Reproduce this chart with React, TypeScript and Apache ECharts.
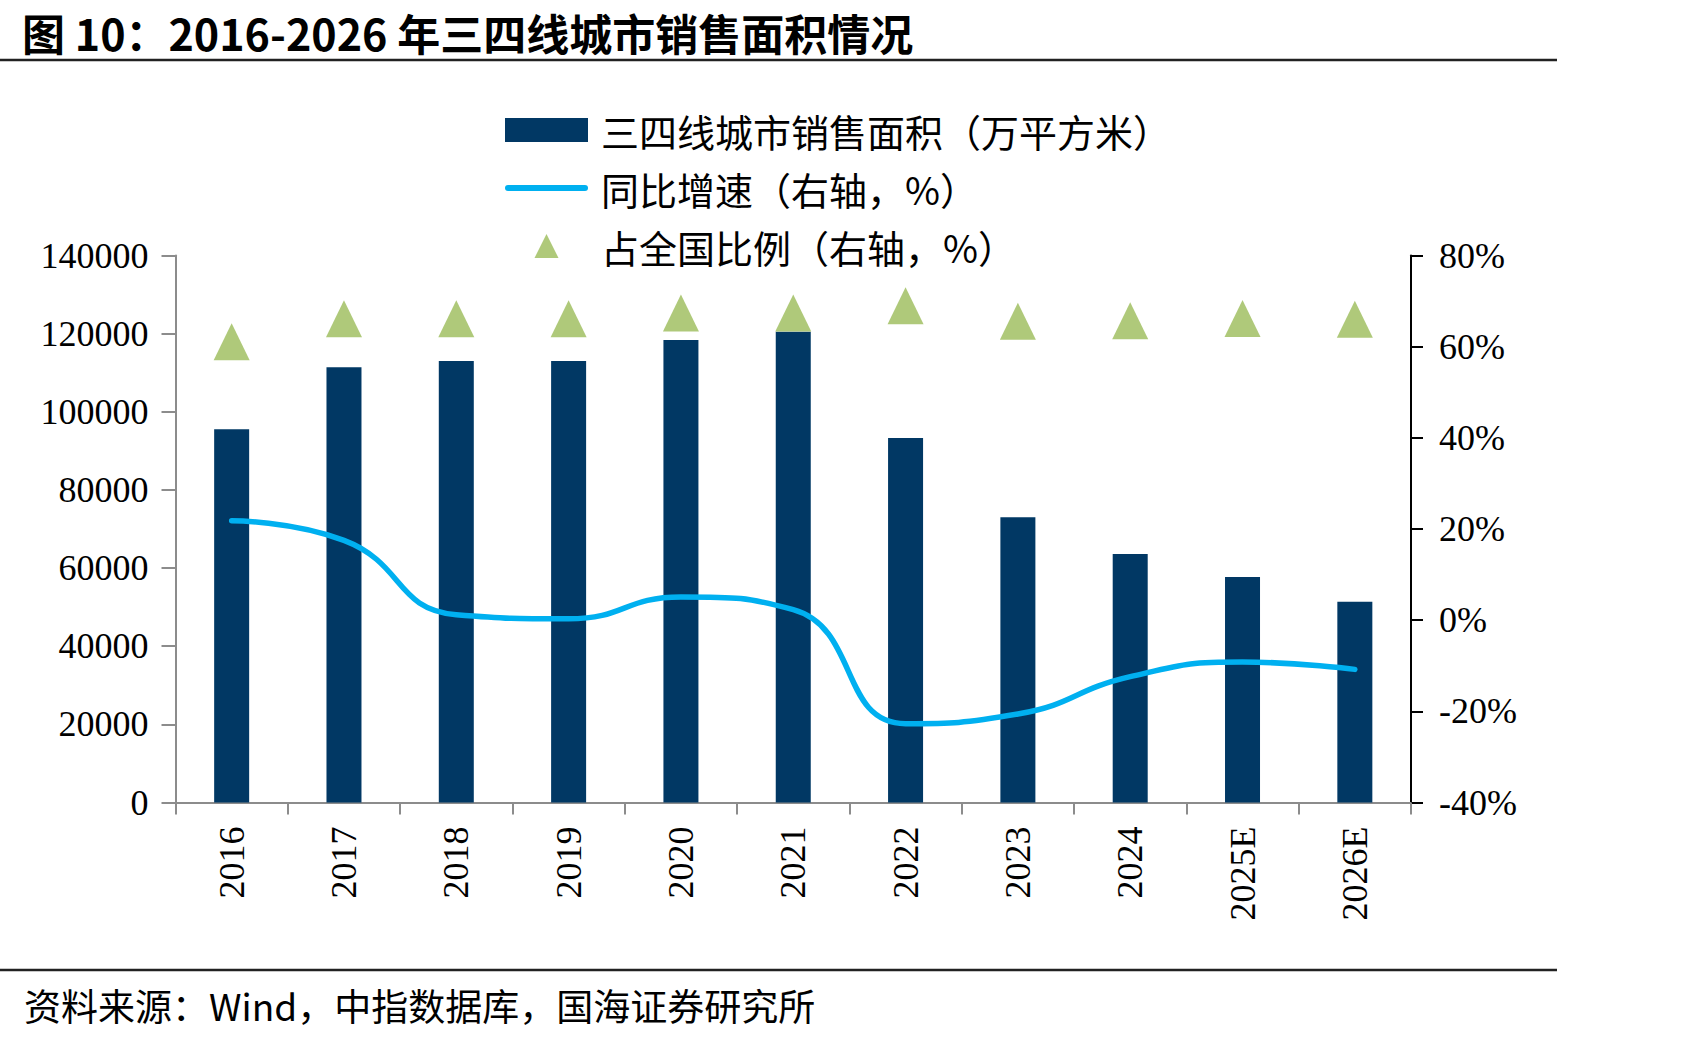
import React, { useEffect, useRef } from "react";
import * as echarts from "echarts";

const titleText = "图 10：2016-2026 年三四线城市销售面积情况";
const sourceText = "资料来源：Wind，中指数据库，国海证券研究所";

const categories = ["2016", "2017", "2018", "2019", "2020", "2021", "2022", "2023", "2024", "2025E", "2026E"];
const salesArea = [95500, 111400, 113000, 113000, 118400, 120500, 93300, 73000, 63600, 57700, 51400];
const yoyGrowth = [21.8, 17.5, 1.2, 0.3, 5.1, 2.3, -22.7, -20.6, -12.4, -9.2, -10.8];
const nationalShare = [61.1, 66.1, 66.1, 66.1, 67.4, 67.4, 69.0, 65.6, 65.7, 66.2, 66.0];

const barName = "三四线城市销售面积（万平方米）";
const lineName = "同比增速（右轴，%）";
const scatterName = "占全国比例（右轴，%）";

const leftAxis = { min: 0, max: 140000, interval: 20000 };
const rightAxis = { min: -40, max: 80, interval: 20 };

const W = 1689;
const H = 1039;
const serif = "'Liberation Serif', 'Times New Roman', serif";
const cjk = "'Noto Sans CJK SC', sans-serif";

const barColor = "#013864";
const lineColor = "#00B0F0";
const triColor = "#9BBB59";

export default function App() {
  const ref = useRef<HTMLDivElement>(null);

  useEffect(() => {
    document.body.style.margin = "0";
    if (!ref.current) return;
    const chart = echarts.init(ref.current, null, { renderer: "svg" });
    chart.setOption({
      animation: false,
      backgroundColor: "#ffffff",
      legend: {
        orient: "vertical",
        left: 500,
        top: 105,
        itemWidth: 83,
        itemHeight: 24,
        itemGap: 18,
        symbolKeepAspect: true,
        selectedMode: false,
        textStyle: { fontSize: 38, lineHeight: 40, color: "#000", fontFamily: cjk, padding: [0, 0, 0, 8] },
        data: [
          { name: barName, icon: "rect", itemStyle: { color: barColor } },
          {
            name: lineName,
            icon: "path://M3,0H80A3,3,0,0,1,80,6H3A3,3,0,0,1,3,0Z",
            itemStyle: { color: lineColor, borderWidth: 0 },
          },
          { name: scatterName, icon: "path://M12,0L24,24L0,24Z", itemStyle: { color: triColor } },
        ],
      },
      grid: { left: 175.5, right: 278, top: 255.5, bottom: 236.5, containLabel: false },
      xAxis: {
        type: "category",
        data: categories,
        boundaryGap: true,
        axisLine: { lineStyle: { color: "#8c8c8c", width: 2 } },
        axisTick: { show: true, length: 12, lineStyle: { color: "#8c8c8c", width: 2 } },
        axisLabel: { rotate: 90, margin: 24, fontSize: 36, fontFamily: serif, color: "#000", interval: 0 },
      },
      yAxis: [
        {
          type: "value",
          min: leftAxis.min,
          max: leftAxis.max,
          interval: leftAxis.interval,
          axisLine: { show: true, lineStyle: { color: "#8c8c8c", width: 2 } },
          axisTick: { show: true, length: 14, lineStyle: { color: "#8c8c8c", width: 2 } },
          axisLabel: {
            margin: 27,
            fontSize: 36,
            fontFamily: serif,
            color: "#000",
            formatter: (v: number) => String(v),
          },
          splitLine: { show: false },
        },
        {
          type: "value",
          position: "right",
          min: rightAxis.min,
          max: rightAxis.max,
          interval: rightAxis.interval,
          axisLine: { show: true, lineStyle: { color: "#000", width: 2 } },
          axisTick: { show: true, length: 12, lineStyle: { color: "#000", width: 2 } },
          axisLabel: { margin: 28, fontSize: 36, fontFamily: serif, color: "#000", formatter: "{value}%" },
          splitLine: { show: false },
        },
      ],
      series: [
        {
          name: barName,
          type: "bar",
          data: salesArea,
          barWidth: 35,
          itemStyle: { color: barColor },
        },
        {
          name: lineName,
          type: "line",
          yAxisIndex: 1,
          data: yoyGrowth,
          smooth: 0.5,
          symbol: "none",
          showSymbol: false,
          lineStyle: { color: lineColor, width: 5.5, cap: "round" },
          itemStyle: { color: lineColor },
          z: 3,
        },
        {
          name: scatterName,
          type: "scatter",
          yAxisIndex: 1,
          data: nationalShare,
          symbol: "triangle",
          symbolSize: [36, 37],
          itemStyle: { color: triColor },
          z: 4,
        },
      ],
      graphic: [
        {
          type: "text",
          x: 22,
          y: 32,
          style: {
            text: titleText,
            fontSize: 43,
            fontWeight: "bold",
            fontFamily: cjk,
            fill: "#000",
            verticalAlign: "middle",
          },
        },
        { type: "line", shape: { x1: 0, y1: 60, x2: 1557, y2: 60 }, style: { stroke: "#222", lineWidth: 2.5 } },
        { type: "line", shape: { x1: 0, y1: 970, x2: 1557, y2: 970 }, style: { stroke: "#222", lineWidth: 2.5 } },
        {
          type: "text",
          x: 24,
          y: 1005,
          style: { text: sourceText, fontSize: 37, fontFamily: cjk, fill: "#000", verticalAlign: "middle" },
        },
      ],
    });
    return () => chart.dispose();
  }, []);

  return <div ref={ref} style={{ position: "fixed", left: 0, top: 0, width: W, height: H }} />;
}
